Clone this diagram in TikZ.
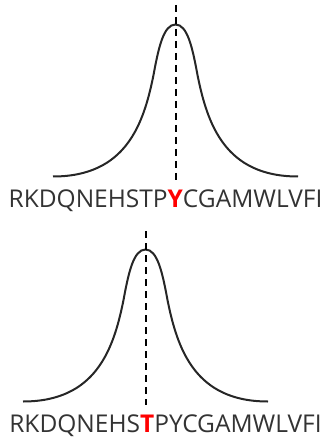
\documentclass[tikz,border=0pt]{standalone}
\usepackage{fontspec}
\setmainfont{Open Sans}
\usepackage{xcolor}
\definecolor{seqgray}{HTML}{333333}
\tikzset{
    % peak curve and marker line
    mycurve/.style={line width=2pt, color=black!85},
    mydash/.style={line width=2pt, dash pattern=on 7pt off 5pt},
    myseq/.style={inner sep=0pt, anchor=base, text=seqgray, font=\fontsize{24.5}{28}\selectfont}
}
% bell shaped peak, #1 = centre x, #2 = base y
\newcommand{\peakcurve}[2]{%
    \draw[mycurve] (#1-122.5,#2) .. controls (#1-50,#2) and (#1-32,#2-51.5) .. (#1-22,#2-101.5)
        .. controls (#1-17,#2-128.5) and (#1-12,#2-152) .. (#1,#2-152)
        .. controls (#1+12,#2-152) and (#1+17,#2-128.5) .. (#1+22,#2-101.5)
        .. controls (#1+32,#2-51.5) and (#1+50,#2) .. (#1+122.5,#2);
}

\begin{document}
\begin{tikzpicture}[x=1pt,y=-1pt]
    \useasboundingbox (0,0) rectangle (324,438);
    % Y site
    \node (S1) at (165.5,207) [myseq] {RKDQNEHSTP{\color{red}\bfseries Y}CGAMWLVFI};
    \coordinate (T1) at (176,5);
    \coordinate (B1) at (176,182);
    \peakcurve{175.5}{176.5}
    \draw[mydash] (T1) -- (B1);

    % T site
    \node (S2) at (165.5,432) [myseq] {RKDQNEHS{\color{red}\bfseries T}PYCGAMWLVFI};
    \coordinate (T2) at (146,231);
    \coordinate (B2) at (146,405);
    \peakcurve{145.5}{401.5}
    \draw[mydash] (T2) -- (B2);
\end{tikzpicture}
\end{document}
